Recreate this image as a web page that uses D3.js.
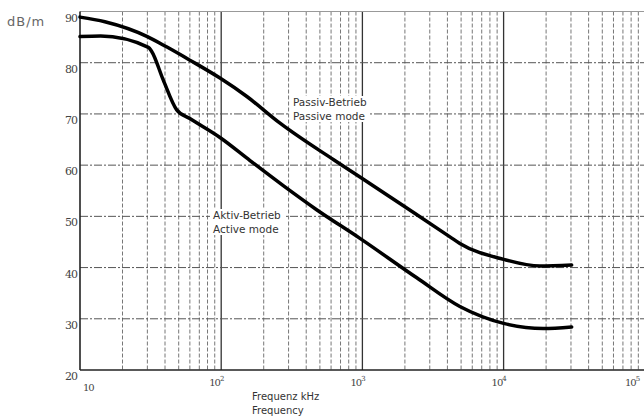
<!DOCTYPE html>
<html>
<head>
<meta charset="utf-8">
<script src="https://cdn.jsdelivr.net/npm/d3@7/dist/d3.min.js"></script>
<style>
  body { margin: 0; background: #fff; }
  svg { display: block; }
</style>
</head>
<body>
<svg id="chart" width="644" height="420"></svg>
<script>
// data
var passiveFreq = [10, 15, 30, 41, 60, 98, 152, 261, 622, 961, 1846, 4170, 4900, 10000, 18100, 30350];
var passiveDb   = [88.9, 88.0, 85.1, 83.1, 80.5, 77.0, 73.4, 68.2, 61.1, 57.7, 52.5, 46.0, 44.7, 41.6, 40.3, 40.5];

var activeFreq = [10, 14, 30.5, 32.2, 38.9, 48.4, 60, 98, 160, 275, 474, 961, 2427, 4900, 10000, 19100, 30350];
var activeDb   = [85.1, 85.2, 83.0, 82.2, 76.6, 70.8, 69.1, 65.4, 60.9, 56.0, 51.3, 45.7, 38.0, 32.4, 29.1, 28.1, 28.4];

var yTicks = [20, 30, 40, 50, 60, 70, 80, 90];
var xDecades = [10, 100, 1000, 10000, 100000];
var xExponents = ["", "2", "3", "4", "5"];

var svg = d3.select("#chart");

var x = d3.scaleLog().domain([10, 100000]).range([80, 644.8]);
var y = d3.scaleLinear().domain([20, 90]).range([370, 11.5]);

// minor grid: 2..9 in every decade
var minorTicks = [];
for (var d = 0; d < 4; d++) {
  for (var m = 2; m < 10; m++) {
    minorTicks.push(m * Math.pow(10, d + 1));
  }
} // end for

var grid = svg.append("g");

grid.selectAll(".minor")
  .data(minorTicks)
  .enter()
  .append("line")
  .attr("x1", function(v) { return x(v); })
  .attr("x2", function(v) { return x(v); })
  .attr("y1", y(90))
  .attr("y2", y(20))
  .attr("stroke", "#777")
  .attr("stroke-width", 1)
  .attr("stroke-dasharray", "4,2");

grid.selectAll(".major")
  .data(xDecades.slice(1))
  .enter()
  .append("line")
  .attr("x1", function(v) { return x(v); })
  .attr("x2", function(v) { return x(v); })
  .attr("y1", y(90))
  .attr("y2", y(20))
  .attr("stroke", "#333")
  .attr("stroke-width", 1.3);

grid.selectAll(".hline")
  .data(yTicks.slice(1, -1))
  .enter()
  .append("line")
  .attr("x1", x(10))
  .attr("x2", 644)
  .attr("y1", function(v) { return y(v); })
  .attr("y2", function(v) { return y(v); })
  .attr("stroke", "#555")
  .attr("stroke-width", 1)
  .attr("stroke-dasharray", "8,2,2,2");

// frame
svg.append("line") // top, faint
  .attr("x1", x(10)).attr("x2", 644)
  .attr("y1", y(90)).attr("y2", y(90))
  .attr("stroke", "#999").attr("stroke-width", 1.2);

svg.append("line") // bottom
  .attr("x1", x(10)).attr("x2", 644)
  .attr("y1", y(20)).attr("y2", y(20))
  .attr("stroke", "#222").attr("stroke-width", 1.6);

svg.append("line") // left
  .attr("x1", x(10)).attr("x2", x(10))
  .attr("y1", y(90)).attr("y2", y(20))
  .attr("stroke", "#222").attr("stroke-width", 1.6);

// y labels
svg.selectAll(".ylab")
  .data(yTicks)
  .enter()
  .append("text")
  .attr("x", 77)
  .attr("y", function(v) { return y(v) + 10; })
  .attr("text-anchor", "end")
  .attr("font-family", "DejaVu Serif, serif")
  .attr("font-size", 11)
  .attr("letter-spacing", -1)
  .attr("fill", "#444")
  .text(function(v) { return v; });

// x labels, powers of ten (last one pulled in so it stays on the page)
var xl = svg.selectAll(".xlab")
  .data(xDecades)
  .enter()
  .append("text")
  .attr("x", function(v, i) { return i === 0 ? x(v) + 3 : Math.min(x(v) - 12, 625); })
  .attr("y", function(v, i) { return i === 0 ? 391 : 386; })
  .attr("font-family", "DejaVu Serif, serif")
  .attr("font-size", 10)
  .attr("letter-spacing", -1)
  .attr("fill", "#444");

xl.append("tspan").text("10");
xl.append("tspan")
  .attr("dy", -5)
  .attr("font-size", 7)
  .text(function(v, i) { return xExponents[i]; });

// axis titles
svg.append("text")
  .attr("x", 7).attr("y", 26)
  .attr("font-family", "DejaVu Sans, sans-serif")
  .attr("font-size", 13)
  .attr("letter-spacing", 1)
  .attr("fill", "#666")
  .text("dB/m");

svg.append("text")
  .attr("x", 252).attr("y", 400)
  .attr("font-family", "DejaVu Sans, sans-serif")
  .attr("font-size", 10)
  .attr("fill", "#333")
  .text("Frequenz kHz");

svg.append("text")
  .attr("x", 252).attr("y", 414)
  .attr("font-family", "DejaVu Sans, sans-serif")
  .attr("font-size", 10)
  .attr("fill", "#333")
  .text("Frequency");

// curve labels with white backing so the grid breaks behind them
var addLabel = function(lx, ly, lines) {
  var g = svg.append("g");
  var bg = g.append("rect").attr("fill", "#fff");
  var t = g.append("text")
    .attr("font-family", "DejaVu Sans, sans-serif")
    .attr("font-size", 10.5)
    .attr("fill", "#333");
  lines.forEach(function(s, i) {
    t.append("tspan").attr("x", lx).attr("y", ly + i * 14).text(s);
  });
  var b = t.node().getBBox();
  bg.attr("x", b.x - 3).attr("y", b.y).attr("width", b.width + 6).attr("height", b.height);
}; // end addLabel

addLabel(293, 106, ["Passiv-Betrieb", "Passive mode"]);
addLabel(213, 219, ["Aktiv-Betrieb", "Active mode"]);

// curves
var line = d3.line()
  .x(function(p) { return x(p[0]); })
  .y(function(p) { return y(p[1]); })
  .curve(d3.curveMonotoneX);

var series = [d3.zip(passiveFreq, passiveDb), d3.zip(activeFreq, activeDb)];

svg.selectAll(".curve")
  .data(series)
  .enter()
  .append("path")
  .attr("d", line)
  .attr("fill", "none")
  .attr("stroke", "#000")
  .attr("stroke-width", 3.5)
  .attr("stroke-linejoin", "round")
  .attr("stroke-linecap", "round");
</script>
</body>
</html>
